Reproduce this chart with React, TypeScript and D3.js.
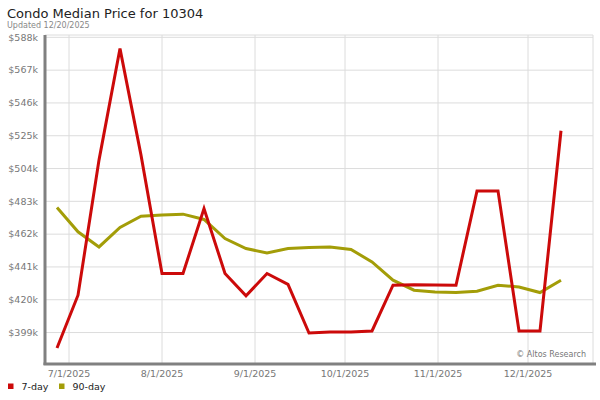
import * as d3 from 'd3';

// weekly sample dates (UTC)
const dates = [
  '2025-06-27', '2025-07-04', '2025-07-11', '2025-07-18', '2025-07-25',
  '2025-08-01', '2025-08-08', '2025-08-15', '2025-08-22', '2025-08-29',
  '2025-09-05', '2025-09-12', '2025-09-19', '2025-09-26', '2025-10-03',
  '2025-10-10', '2025-10-17', '2025-10-24', '2025-10-31', '2025-11-07',
  '2025-11-14', '2025-11-21', '2025-11-28', '2025-12-05', '2025-12-12',
];

// median price, thousands of dollars
const sevenDay = [
  389.1, 422.9, 509.4, 580.8, 512.6,
  436.8, 436.8, 478.4, 436.8, 422.5,
  436.8, 429.8, 398.7, 399.3, 399.4,
  400.0, 429.3, 429.6, 429.4, 429.3,
  489.7, 489.7, 400.0, 400.0, 528.2,
];
const ninetyDay = [
  479.1, 463.5, 453.8, 466.3, 473.5,
  474.2, 474.8, 471.4, 459.2, 452.8,
  450.0, 452.8, 453.4, 453.8, 452.2,
  444.2, 432.5, 426.1, 425.0, 424.6,
  425.5, 429.3, 428.2, 424.6, 432.5,
];

const yTicks = [399, 420, 441, 462, 483, 504, 525, 546, 567, 588];
const xTicks = ['2025-07-01', '2025-08-01', '2025-09-01', '2025-10-01', '2025-11-01', '2025-12-01'];

const series = [
  { name: '7-day', values: sevenDay, color: '#cc0a0a' },
  { name: '90-day', values: ninetyDay, color: '#a39d08' },
];

const parse = (s: string) => new Date(s + 'T00:00:00Z');

const App = () => {
  const width = 600;
  const height = 400;
  const left = 45, right = 593, top = 35, bottom = 363;

  const x = d3.scaleUtc()
    .domain([parse('2025-06-23'), new Date(Date.UTC(2025, 11, 22, 16))])
    .range([left, right]);
  const y = d3.scaleLinear().domain([379.5, 589.5]).range([bottom, top]);

  const fmt = d3.utcFormat('%-m/%-d/%Y');
  const font = '"DejaVu Sans", Verdana, sans-serif';

  const line = (vals: number[]) =>
    d3.line<number>()
      .x((_, i) => x(parse(dates[i])))
      .y(d => y(d))(vals) || '';

  return (
    <div style={{ position: 'fixed', left: 0, top: 0 }}>
      <svg width={width} height={height} style={{ display: 'block', background: '#fff' }} fontFamily={font}>
        <text x={7} y={18} fontSize={13} fill="#222">Condo Median Price for 10304</text>
        <text x={7} y={27.5} fontSize={8} fill="#888">Updated 12/20/2025</text>

        {/* grid */}
        {yTicks.map(t => (
          <line key={'gy' + t} x1={left} x2={right} y1={y(t)} y2={y(t)} stroke="#dcdcdc" strokeWidth={1} />
        ))}
        {xTicks.map(t => (
          <line key={'gx' + t} x1={x(parse(t))} x2={x(parse(t))} y1={top} y2={bottom} stroke="#dcdcdc" strokeWidth={1} />
        ))}
        <line x1={left} x2={right} y1={top} y2={top} stroke="#dcdcdc" />
        <line x1={right} x2={right} y1={top} y2={bottom} stroke="#dcdcdc" />

        {/* tick labels */}
        {yTicks.map(t => (
          <text key={'ly' + t} x={38} y={y(t)} dy="0.35em" textAnchor="end" fontSize={9.5} fill="#777">
            ${t}k
          </text>
        ))}
        {xTicks.map(t => (
          <text key={'lx' + t} x={x(parse(t))} y={377} textAnchor="middle" fontSize={9.5} fill="#777">
            {fmt(parse(t))}
          </text>
        ))}

        <text x={586} y={356.5} textAnchor="end" fontSize={8} fill="#777">© Altos Research</text>

        {/* series */}
        {series.slice().reverse().map(s => (
          <path key={s.name} d={line(s.values)} fill="none" stroke={s.color} strokeWidth={3} strokeLinejoin="miter" />
        ))}

        {/* axes */}
        <line x1={left} x2={left} y1={top} y2={bottom + 2} stroke="#808080" strokeWidth={3} />
        <line x1={left - 1.5} x2={596} y1={bottom + 1} y2={bottom + 1} stroke="#808080" strokeWidth={3} />

        {/* legend */}
        {series.map((s, i) => (
          <g key={'lg' + s.name} transform={`translate(${i === 0 ? 8 : 59},0)`}>
            <rect x={0} y={383.5} width={5.5} height={5.5} fill={s.color} />
            <text x={13.5} y={390} fontSize={9.5} fill="#222">{s.name}</text>
          </g>
        ))}
      </svg>
    </div>
  );
};

export default App;
